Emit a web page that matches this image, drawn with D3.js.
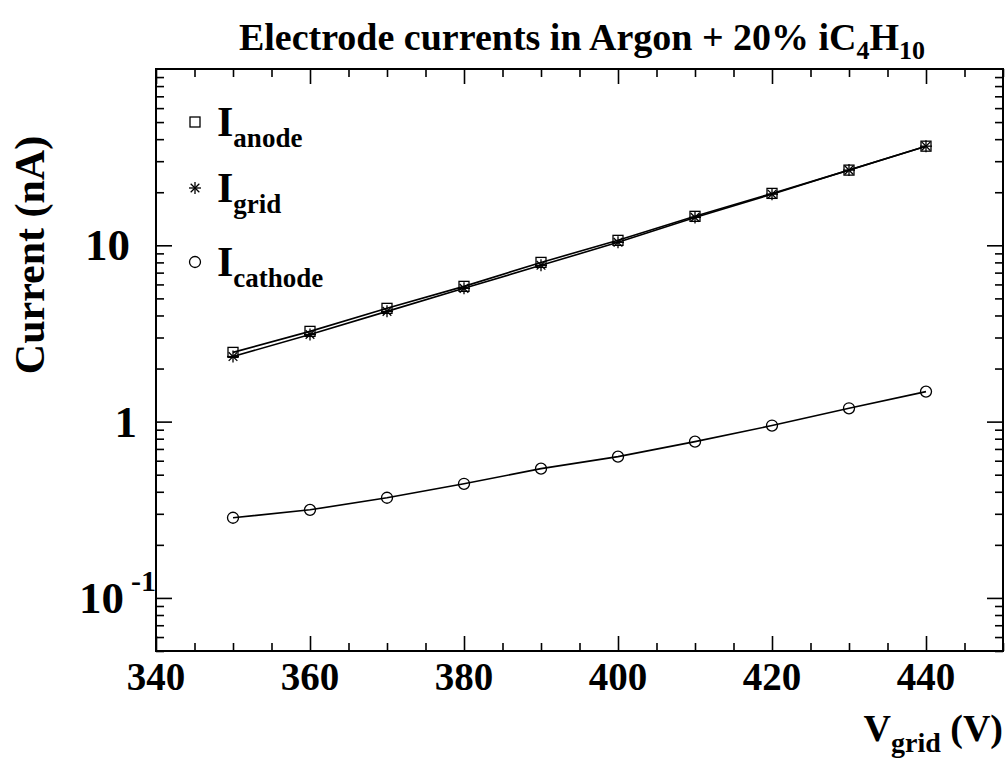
<!DOCTYPE html>
<html><head><meta charset="utf-8">
<script src="https://cdn.jsdelivr.net/npm/d3@7"></script>
<style>body{margin:0;background:#fff}svg{display:block}text{font-family:"Liberation Serif","Times New Roman",serif;font-weight:bold;fill:#000}</style>
</head><body><svg id="c" width="1008" height="760"></svg>
<script>
const voltages = [350,360,370,380,390,400,410,420,430,440];
const anode   = [2.47,3.25,4.39,5.85,8.0,10.67,14.6,19.7,26.7,36.5];
const grid    = [2.34,3.12,4.22,5.70,7.7,10.4,14.4,19.5,26.7,36.5];
const cathode = [0.285,0.316,0.37,0.444,0.541,0.633,0.77,0.95,1.19,1.48];
const xMajor = [340,360,380,400,420,440];
const yMajor = [0.1,1,10];

const svg = d3.select("#c");
const L=156,R=1003,T=69,B=651;
const x = d3.scaleLinear().domain([340,450]).range([L,R]);
const y = d3.scaleLog().domain([0.05,100]).range([B,T]);

const xMinor = d3.range(340,451,5).filter(v=>!xMajor.includes(v));
const yMinor = [];
[0.01,0.1,1,10].forEach(d=>{for(let k=2;k<=9;k++){const v=d*k;if(v>=0.05&&v<=100&&!yMajor.includes(v))yMinor.push(v);}});

function ax(gen, tr){
  const g = svg.append("g").attr("transform",tr).call(gen);
  g.select(".domain").remove();
  g.selectAll("line").attr("stroke","#000").attr("stroke-width",1.6);
  return g;
}
ax(d3.axisBottom(x).tickValues(xMajor).tickSize(-15).tickFormat(""),`translate(0,${B})`);
ax(d3.axisBottom(x).tickValues(xMinor).tickSize(-8).tickFormat(""),`translate(0,${B})`);
ax(d3.axisTop(x).tickValues(xMajor).tickSize(-15).tickFormat(""),`translate(0,${T})`);
ax(d3.axisTop(x).tickValues(xMinor).tickSize(-8).tickFormat(""),`translate(0,${T})`);
ax(d3.axisLeft(y).tickValues(yMajor).tickSize(-16).tickFormat(""),`translate(${L},0)`);
ax(d3.axisLeft(y).tickValues(yMinor).tickSize(-8).tickFormat(""),`translate(${L},0)`);
ax(d3.axisRight(y).tickValues(yMajor).tickSize(-16).tickFormat(""),`translate(${R},0)`);
ax(d3.axisRight(y).tickValues(yMinor).tickSize(-8).tickFormat(""),`translate(${R},0)`);

svg.append("rect").attr("x",L).attr("y",T).attr("width",R-L).attr("height",B-T)
  .attr("fill","none").attr("stroke","#000").attr("stroke-width",2);

svg.selectAll(".xl").data(xMajor).enter().append("text")
  .attr("x",d=>x(d)).attr("y",690).attr("text-anchor","middle")
  .style("font-size","39px").text(d=>d);

yMajor.forEach(v=>{
  const t = svg.append("text").attr("y",y(v)+15).style("font-size","45px");
  if(v===10){t.attr("x",130).attr("text-anchor","end").text("10");}
  else if(v===1){t.attr("x",137).attr("text-anchor","end").text("1");}
  else{
    t.attr("x",79).text("10");
    t.append("tspan").attr("dx",7).attr("dy",-22).style("font-size","30px").text("-1");
  }
});

svg.append("text").attr("transform","translate(44,255) rotate(-90)")
  .attr("text-anchor","middle").style("font-size","42px").text("Current (nA)");
const xt = svg.append("text").attr("x",1003).attr("y",741).attr("text-anchor","end").style("font-size","38px");
xt.append("tspan").text("V");
xt.append("tspan").attr("dy",11).style("font-size","28px").text("grid");
xt.append("tspan").attr("dy",-11).text(" (V)");

const tt = svg.append("text").attr("x",582).attr("y",50).attr("text-anchor","middle").style("font-size","38px");
tt.append("tspan").text("Electrode currents in Argon + 20% iC");
tt.append("tspan").attr("dy",9).style("font-size","26px").text("4");
tt.append("tspan").attr("dy",-9).text("H");
tt.append("tspan").attr("dy",9).style("font-size","26px").text("10");

const line = d3.line().x((d,i)=>x(voltages[i])).y(d=>y(d));
[anode,grid,cathode].forEach(s=>{
  svg.append("path").attr("d",line(s)).attr("fill","none").attr("stroke","#000").attr("stroke-width",1.6);
});

function square(g,cx,cy){g.append("rect").attr("x",cx-5).attr("y",cy-5).attr("width",10).attr("height",10).attr("fill","none").attr("stroke","#000").attr("stroke-width",1.3);}
function star(g,cx,cy){const r=6;[[r,0],[0,r],[r*0.72,r*0.72],[r*0.72,-r*0.72]].forEach(([a,b])=>g.append("line").attr("x1",cx-a).attr("y1",cy-b).attr("x2",cx+a).attr("y2",cy+b).attr("stroke","#000").attr("stroke-width",1.3));}
function circ(g,cx,cy){g.append("circle").attr("cx",cx).attr("cy",cy).attr("r",5.5).attr("fill","none").attr("stroke","#000").attr("stroke-width",1.3);}
const mg = svg.append("g");
anode.forEach((v,i)=>square(mg,x(voltages[i]),y(v)));
grid.forEach((v,i)=>star(mg,x(voltages[i]),y(v)));
cathode.forEach((v,i)=>circ(mg,x(voltages[i]),y(v)));

const legend = [["anode",square,122,136],["grid",star,188,202],["cathode",circ,262,276]];
legend.forEach(([lab,fn,my,by])=>{
  fn(mg,195,my);
  const t = svg.append("text").attr("x",217).attr("y",by).style("font-size","42px");
  t.append("tspan").text("I");
  t.append("tspan").attr("dy",11).style("font-size","27px").text(lab);
});
</script></body></html>
